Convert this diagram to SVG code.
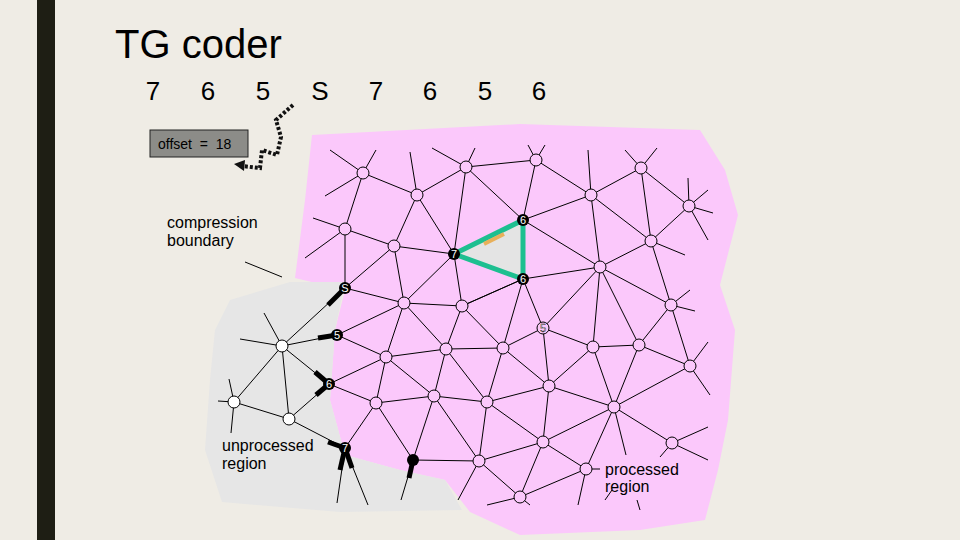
<svg xmlns="http://www.w3.org/2000/svg" width="960" height="540" viewBox="0 0 960 540">
<style>
.e line{stroke:#000;stroke-width:1}
.nd{fill:#fbc8fb;stroke:#000;stroke-width:1}
.nw{fill:#fff;stroke:#000;stroke-width:1}
.nb{fill:#000}
.lbl{font-family:"Liberation Sans",Arial,sans-serif;fill:#000}
.nl{font-family:"Liberation Sans",Arial,sans-serif;font-size:11px;fill:#fff;text-anchor:middle}
.thick line{stroke:#000;stroke-width:5;stroke-linecap:butt}
</style>
<rect width="960" height="540" fill="#efece5"/>
<rect x="37" y="0" width="18" height="540" fill="#1e1e14"/>
<text class="lbl" x="115" y="58" font-size="40">TG coder</text>
<g class="lbl" font-size="26" text-anchor="middle">
<text x="153" y="100">7</text><text x="208" y="100">6</text><text x="263" y="100">5</text><text x="320" y="100">S</text>
<text x="376" y="100">7</text><text x="430" y="100">6</text><text x="485" y="100">5</text><text x="539" y="100">6</text>
</g>
<polygon fill="#fbc8fb" points="312,135 520,124 700,130 725,170 738,215 720,285 735,330 728,420 718,470 705,520 640,530 520,535 470,512 445,480 400,470 345,455 330,400 335,330 345,290 295,278 305,200"/>
<polygon fill="#e6e6e6" points="215,330 230,300 290,282 345,282 335,330 330,400 345,455 400,470 445,480 462,510 340,512 222,502 205,450 210,380"/>
<polygon fill="#e4e4e4" points="454,254 523,220 523,279"/>
<g id="offset">
<rect x="150" y="130" width="98" height="27" fill="#8c8c88" stroke="#222"/>
<text class="lbl" x="158" y="149" font-size="14" fill="#222" xml:space="preserve">offset  =  18</text>
</g>
<path d="M293,105 L276,120 L281,137 L277,155 L262,150 L260,168 L242,166" fill="none" stroke="#111" stroke-width="4" stroke-dasharray="3,2"/>
<polygon points="234,164 245,160 244,171" fill="#111"/>
<g id="connectors" class="e">
<line x1="363" y1="173" x2="417" y2="195"/><line x1="363" y1="173" x2="345" y2="229"/>
<line x1="363" y1="173" x2="330" y2="150"/><line x1="363" y1="173" x2="376" y2="150"/><line x1="363" y1="173" x2="325" y2="196"/>
<line x1="417" y1="195" x2="466" y2="167"/><line x1="417" y1="195" x2="410" y2="152"/><line x1="417" y1="195" x2="394" y2="246"/><line x1="417" y1="195" x2="454" y2="254"/>
<line x1="466" y1="167" x2="536" y2="160"/><line x1="466" y1="167" x2="432" y2="148"/><line x1="466" y1="167" x2="475" y2="148"/><line x1="466" y1="167" x2="454" y2="254"/><line x1="466" y1="167" x2="523" y2="220"/>
<line x1="536" y1="160" x2="591" y2="195"/><line x1="536" y1="160" x2="523" y2="220"/><line x1="536" y1="160" x2="528" y2="145"/><line x1="536" y1="160" x2="545" y2="145"/>
<line x1="591" y1="195" x2="641" y2="168"/><line x1="591" y1="195" x2="523" y2="220"/><line x1="591" y1="195" x2="600" y2="267"/><line x1="591" y1="195" x2="651" y2="241"/><line x1="591" y1="195" x2="588" y2="150"/>
<line x1="641" y1="168" x2="651" y2="241"/><line x1="641" y1="168" x2="689" y2="206"/><line x1="641" y1="168" x2="625" y2="150"/><line x1="641" y1="168" x2="657" y2="148"/>
<line x1="689" y1="206" x2="688" y2="178"/><line x1="689" y1="206" x2="708" y2="190"/><line x1="689" y1="206" x2="713" y2="213"/><line x1="689" y1="206" x2="708" y2="240"/><line x1="689" y1="206" x2="651" y2="241"/>
<line x1="345" y1="229" x2="394" y2="246"/><line x1="345" y1="229" x2="345" y2="288"/><line x1="345" y1="229" x2="313" y2="218"/><line x1="345" y1="229" x2="305" y2="258"/>
<line x1="394" y1="246" x2="454" y2="254"/><line x1="394" y1="246" x2="345" y2="288"/><line x1="394" y1="246" x2="404" y2="303"/>
<line x1="454" y1="254" x2="404" y2="303"/><line x1="454" y1="254" x2="462" y2="306"/>
<line x1="523" y1="220" x2="600" y2="267"/><line x1="523" y1="279" x2="600" y2="267"/><line x1="523" y1="279" x2="462" y2="306"/><line x1="523" y1="279" x2="543" y2="328"/><line x1="523" y1="279" x2="503" y2="348"/>
<line x1="600" y1="267" x2="651" y2="241"/><line x1="600" y1="267" x2="543" y2="328"/><line x1="600" y1="267" x2="671" y2="305"/><line x1="600" y1="267" x2="593" y2="347"/><line x1="600" y1="267" x2="639" y2="345"/>
<line x1="651" y1="241" x2="671" y2="305"/><line x1="651" y1="241" x2="685" y2="255"/>
<line x1="345" y1="288" x2="404" y2="303"/><line x1="404" y1="303" x2="462" y2="306"/><line x1="404" y1="303" x2="337" y2="335"/><line x1="404" y1="303" x2="386" y2="357"/><line x1="404" y1="303" x2="446" y2="349"/>
<line x1="462" y1="306" x2="446" y2="349"/><line x1="462" y1="306" x2="503" y2="348"/><line x1="462" y1="306" x2="523" y2="279"/>
<line x1="543" y1="328" x2="503" y2="348"/><line x1="543" y1="328" x2="549" y2="386"/><line x1="543" y1="328" x2="593" y2="347"/>
<line x1="671" y1="305" x2="639" y2="345"/><line x1="671" y1="305" x2="690" y2="366"/><line x1="671" y1="305" x2="695" y2="311"/><line x1="671" y1="305" x2="690" y2="290"/>
<line x1="593" y1="347" x2="639" y2="345"/><line x1="593" y1="347" x2="549" y2="386"/><line x1="593" y1="347" x2="614" y2="407"/>
<line x1="639" y1="345" x2="690" y2="366"/><line x1="639" y1="345" x2="614" y2="407"/>
<line x1="690" y1="366" x2="614" y2="407"/><line x1="690" y1="366" x2="708" y2="342"/><line x1="690" y1="366" x2="710" y2="395"/>
<line x1="337" y1="335" x2="386" y2="357"/><line x1="386" y1="357" x2="446" y2="349"/><line x1="386" y1="357" x2="329" y2="384"/><line x1="386" y1="357" x2="376" y2="403"/><line x1="386" y1="357" x2="434" y2="396"/>
<line x1="446" y1="349" x2="503" y2="348"/><line x1="446" y1="349" x2="434" y2="396"/><line x1="446" y1="349" x2="487" y2="402"/>
<line x1="503" y1="348" x2="549" y2="386"/><line x1="503" y1="348" x2="487" y2="402"/>
<line x1="549" y1="386" x2="487" y2="402"/><line x1="549" y1="386" x2="614" y2="407"/><line x1="549" y1="386" x2="543" y2="442"/>
<line x1="614" y1="407" x2="543" y2="442"/><line x1="614" y1="407" x2="672" y2="443"/><line x1="614" y1="407" x2="626" y2="455"/><line x1="614" y1="407" x2="586" y2="469"/>
<line x1="672" y1="443" x2="708" y2="427"/><line x1="672" y1="443" x2="708" y2="460"/><line x1="672" y1="443" x2="660" y2="457"/>
<line x1="329" y1="384" x2="376" y2="403"/><line x1="376" y1="403" x2="434" y2="396"/><line x1="376" y1="403" x2="345" y2="448"/><line x1="376" y1="403" x2="413" y2="460"/>
<line x1="434" y1="396" x2="487" y2="402"/><line x1="434" y1="396" x2="413" y2="460"/><line x1="434" y1="396" x2="479" y2="461"/>
<line x1="487" y1="402" x2="479" y2="461"/><line x1="487" y1="402" x2="543" y2="442"/>
<line x1="543" y1="442" x2="479" y2="461"/><line x1="543" y1="442" x2="586" y2="469"/><line x1="543" y1="442" x2="520" y2="497"/>
<line x1="413" y1="460" x2="479" y2="461"/><line x1="479" y1="461" x2="520" y2="497"/><line x1="479" y1="461" x2="458" y2="500"/>
<line x1="586" y1="469" x2="520" y2="497"/><line x1="586" y1="469" x2="578" y2="505"/><line x1="586" y1="469" x2="600" y2="469"/>
<line x1="520" y1="497" x2="487" y2="505"/><line x1="520" y1="497" x2="530" y2="505"/><line x1="605" y1="500" x2="612" y2="490"/><line x1="637" y1="500" x2="640" y2="510"/>
<line x1="282" y1="346" x2="345" y2="288"/><line x1="282" y1="346" x2="337" y2="335"/><line x1="282" y1="346" x2="329" y2="384"/><line x1="282" y1="346" x2="289" y2="419"/><line x1="282" y1="346" x2="234" y2="402"/>
<line x1="282" y1="346" x2="240" y2="339"/><line x1="282" y1="346" x2="264" y2="313"/>
<line x1="234" y1="402" x2="289" y2="419"/><line x1="234" y1="402" x2="218" y2="401"/><line x1="234" y1="402" x2="229" y2="379"/><line x1="234" y1="402" x2="231" y2="433"/>
<line x1="289" y1="419" x2="329" y2="384"/><line x1="289" y1="419" x2="345" y2="448"/>
<line x1="345" y1="448" x2="337" y2="503"/><line x1="345" y1="448" x2="368" y2="505"/><line x1="413" y1="460" x2="401" y2="500"/>
<line x1="245" y1="262" x2="282" y2="277"/>
</g>
<g class="thick">
<line x1="345" y1="288" x2="328" y2="305"/><line x1="337" y1="335" x2="318" y2="338"/>
<line x1="329" y1="384" x2="315" y2="372"/><line x1="329" y1="384" x2="316" y2="395"/>
<line x1="345" y1="448" x2="328" y2="442"/><line x1="345" y1="448" x2="340" y2="470"/><line x1="345" y1="448" x2="352" y2="468"/>
<line x1="413" y1="460" x2="409" y2="478"/>
</g>
<g id="triangle" stroke="#1dbf90" stroke-width="5" fill="none">
<polyline points="454,254 523,220 523,279 454,254"/>
</g>
<line x1="504" y1="234" x2="484" y2="244" stroke="#e8b05a" stroke-width="4"/>
<g id="nodes">
<circle class="nd" cx="363" cy="173" r="6"/><circle class="nd" cx="466" cy="167" r="6"/><circle class="nd" cx="536" cy="160" r="6"/>
<circle class="nd" cx="641" cy="168" r="6"/><circle class="nd" cx="689" cy="206" r="6"/><circle class="nd" cx="417" cy="195" r="6"/>
<circle class="nd" cx="591" cy="195" r="6"/><circle class="nd" cx="345" cy="229" r="6"/><circle class="nd" cx="394" cy="246" r="6"/>
<circle class="nd" cx="651" cy="241" r="6"/><circle class="nd" cx="600" cy="267" r="6"/><circle class="nd" cx="404" cy="303" r="6"/>
<circle class="nd" cx="462" cy="306" r="6"/><circle class="nd" cx="671" cy="305" r="6"/><circle class="nd" cx="386" cy="357" r="6"/>
<circle class="nd" cx="446" cy="349" r="6"/><circle class="nd" cx="503" cy="348" r="6"/><circle class="nd" cx="593" cy="347" r="6"/>
<circle class="nd" cx="639" cy="345" r="6"/><circle class="nd" cx="690" cy="366" r="6"/><circle class="nd" cx="549" cy="386" r="6"/>
<circle class="nd" cx="376" cy="403" r="6"/><circle class="nd" cx="434" cy="396" r="6"/><circle class="nd" cx="487" cy="402" r="6"/>
<circle class="nd" cx="614" cy="407" r="6"/><circle class="nd" cx="543" cy="442" r="6"/><circle class="nd" cx="672" cy="443" r="6"/>
<circle class="nd" cx="479" cy="461" r="6"/><circle class="nd" cx="586" cy="469" r="6"/><circle class="nd" cx="520" cy="497" r="6"/>
<circle class="nw" cx="282" cy="346" r="6"/><circle class="nw" cx="234" cy="402" r="6"/><circle class="nw" cx="289" cy="419" r="6"/>
<circle class="nd" cx="543" cy="328" r="6"/><text x="543" y="332" font-family="Liberation Sans,sans-serif" font-size="11" fill="#fff" stroke="#000" stroke-width="0.4" text-anchor="middle">5</text>
<circle class="nb" cx="454" cy="254" r="6"/><text class="nl" x="454" y="258">7</text>
<circle class="nb" cx="523" cy="220" r="6"/><text class="nl" x="523" y="224">6</text>
<circle class="nb" cx="523" cy="279" r="6"/><text class="nl" x="523" y="283">6</text>
<circle class="nb" cx="345" cy="288" r="6"/><text class="nl" x="345" y="292">S</text>
<circle class="nb" cx="337" cy="335" r="6"/><text class="nl" x="337" y="339">5</text>
<circle class="nb" cx="329" cy="384" r="6"/><text class="nl" x="329" y="388">6</text>
<circle class="nb" cx="345" cy="448" r="6"/><text class="nl" x="345" y="452">7</text>
<circle class="nb" cx="413" cy="460" r="6"/>
</g>
<g class="lbl" font-size="16">
<text x="167" y="228">compression</text><text x="167" y="246">boundary</text>
<text x="222" y="451">unprocessed</text><text x="222" y="469">region</text>
<text x="605" y="475">processed</text><text x="605" y="492">region</text>
</g>
</svg>
